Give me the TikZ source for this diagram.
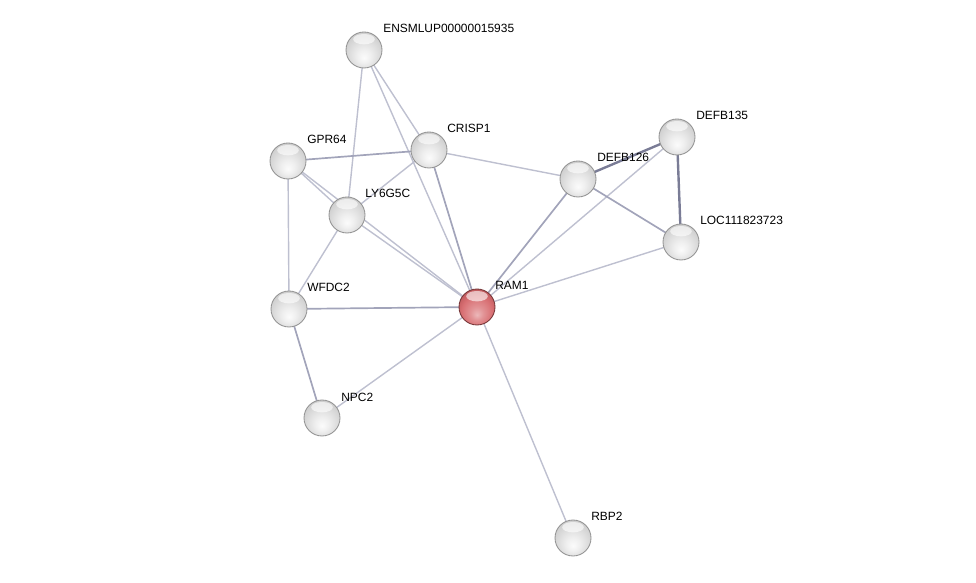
\documentclass[tikz,border=0pt]{standalone}
\usepackage{fontspec}
\setmainfont{Liberation Sans}
\usetikzlibrary{backgrounds}

\definecolor{linklight}{RGB}{190,192,208}
\definecolor{linkmid}{RGB}{162,164,186}
\definecolor{linkdark}{RGB}{122,124,150}
\definecolor{ramred}{RGB}{212,96,100}

\pgfdeclareradialshading{glassgray}{\pgfpoint{0bp}{-11bp}}{%
  color(0bp)=(white!97!gray); color(9bp)=(white!88!gray); color(21bp)=(white!72!gray);
  color(31bp)=(white!58!gray); color(37bp)=(white!52!gray); color(50bp)=(white!52!gray)}
\pgfdeclareradialshading{glassred}{\pgfpoint{0bp}{-11bp}}{%
  color(0bp)=(ramred!45!white); color(9bp)=(ramred!68!white); color(21bp)=(ramred!90!white);
  color(31bp)=(ramred!88!black); color(37bp)=(ramred!78!black); color(50bp)=(ramred!78!black)}

\tikzset{
  shine/.style={path picture={
    \fill[white, opacity=0.6] ([yshift=0.27cm]path picture bounding box.center)
      ellipse [x radius=0.27cm, y radius=0.13cm];}},
  protein/.style={circle, minimum size=36*0.025cm, inner sep=0pt, draw=gray!85, line width=0.6pt,
    shading=glassgray, shine},
  query/.style={protein, draw=ramred!55!black, shading=glassred},
  lbl/.style={anchor=west, inner sep=0pt, font=\fontsize{8.5}{10}\selectfont},
  link/.style={draw=linklight, line width=1pt},
  linkm/.style={draw=linkmid, line width=1.2pt},
  linkd/.style={draw=linkdark, line width=1.7pt}
}

\begin{document}
\begin{tikzpicture}[x=0.025cm,y=-0.025cm]
\useasboundingbox (0,0) rectangle (976,583);
% proteins
\node[protein] (ensm) at (364,50) {};
\node[protein] (crisp1) at (429,150) {};
\node[protein] (gpr64) at (288,161) {};
\node[protein] (ly6g5c) at (347,215) {};
\node[protein] (wfdc2) at (289,309) {};
\node[query] (ram1) at (477,307) {};
\node[protein] (npc2) at (322,418) {};
\node[protein] (rbp2) at (573,538) {};
\node[protein] (defb126) at (578,179) {};
\node[protein] (defb135) at (677,137) {};
\node[protein] (loc) at (681,242) {};
% names
\node[lbl] (ensm-l) at (383,28) {ENSMLUP00000015935};
\node[lbl] (crisp1-l) at (447,128) {CRISP1};
\node[lbl] (gpr64-l) at (307,139) {GPR64};
\node[lbl] (ly6g5c-l) at (365,193) {LY6G5C};
\node[lbl] (wfdc2-l) at (307,287) {WFDC2};
\node[lbl] (ram1-l) at (495,285) {RAM1};
\node[lbl] (npc2-l) at (341,397) {NPC2};
\node[lbl] (rbp2-l) at (591,516) {RBP2};
\node[lbl] (defb126-l) at (597,157) {DEFB126};
\node[lbl] (defb135-l) at (696,115) {DEFB135};
\node[lbl] (loc-l) at (700,220) {LOC111823723};
% links
\begin{scope}[on background layer]
\draw[link] (ensm.center) -- (ly6g5c.center);
\draw[link] (ensm.center) -- (crisp1.center);
\draw[link] (ensm.center) -- (ram1.center);
\draw[linkm] (gpr64.center) -- (crisp1.center);
\draw[link] (gpr64.center) -- (ly6g5c.center);
\draw[link] (gpr64.center) -- (ram1.center);
\draw[link] (gpr64.center) -- (wfdc2.center);
\draw[link] (crisp1.center) -- (ly6g5c.center);
\draw[linkm] (crisp1.center) -- (ram1.center);
\draw[link] (crisp1.center) -- (defb126.center);
\draw[link] (ly6g5c.center) -- (wfdc2.center);
\draw[link] (ly6g5c.center) -- (ram1.center);
\draw[linkm] (wfdc2.center) -- (ram1.center);
\draw[linkm] (wfdc2.center) -- (npc2.center);
\draw[link] (npc2.center) -- (ram1.center);
\draw[link] (ram1.center) -- (rbp2.center);
\draw[linkm] (ram1.center) -- (defb126.center);
\draw[link] (ram1.center) -- (defb135.center);
\draw[link] (ram1.center) -- (loc.center);
\draw[linkm] (defb126.center) -- (loc.center);
\draw[linkd] (defb126.center) -- (defb135.center);
\draw[linkd] (defb135.center) -- (loc.center);
\end{scope}
\end{tikzpicture}
\end{document}
